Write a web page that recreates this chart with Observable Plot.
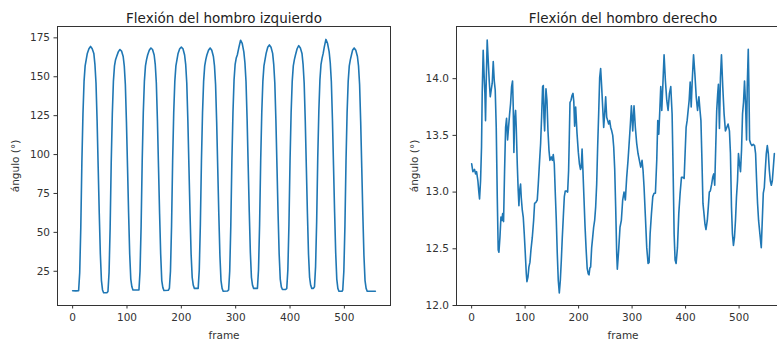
<!DOCTYPE html>
<html>
<head>
<meta charset="utf-8">
<script src="https://cdn.jsdelivr.net/npm/d3@7"></script>
<script src="https://cdn.jsdelivr.net/npm/@observablehq/plot@0.6"></script>
<style>
  html, body { margin: 0; padding: 0; background: #fff; }
  #wrap { position: relative; width: 777px; height: 343px; overflow: hidden; background: #fff; }
  #left, #right { position: absolute; top: 0; }
  #left { left: 0; width: 391px; }
  #right { left: 391px; width: 400px; }
  #wrap svg { max-width: none !important; }
</style>
</head>
<body>
<div id="wrap"><div id="left"></div><div id="right"></div></div>
<script>
// ---- data ----
const titles = ["Flexión del hombro izquierdo", "Flexión del hombro derecho"];
const xLabel = "frame";
const yLabel = "ángulo (°)";
const xTicks = [0, 100, 200, 300, 400, 500];
const leftYTicks = [25, 50, 75, 100, 125, 150, 175];
const rightYTicks = [12.0, 12.5, 13.0, 13.5, 14.0];

// left shoulder flexion: [frame, angle]
const leftSeries = [
[0,12.5],[6,12.4],[11,12.5],[13,24],[15,53],[17,95],[19,126],[21,147],[23,157],[25,161],[27,165],[30,168],[33,169.5],[36,168],[39,165],[41,158],[43,146],[45,122],[47,92],[49,62],[51,36],[53,19],[55,13],[57,11.2],[63,11.2],
[65,12],[67,24],[69,53],[71,95],[73,126],[75,147],[77,157],[79,161],[81,163],[84,166],[87,167.5],[90,166.5],[93,163],[95,157],[97,145],[99,121],[101,92],[103,62],[105,36],[107,20],[109,15],[111,13],[118,13],
[122,13],[124,25],[126,54],[128,96],[130,127],[132,147],[134,157],[136,161],[138,164],[141,167],[144,168.5],[147,167.5],[150,164],[152,158],[154,146],[156,122],[158,92],[160,62],[162,36],[164,19],[166,14.5],[168,12.6],[176,12.8],
[178,14],[180,25],[182,54],[184,96],[186,127],[188,147],[190,157],[192,161],[194,165],[197,168],[200,169],[203,168],[206,164],[208,158],[210,146],[212,122],[214,92],[216,62],[218,36],[220,21],[222,16],[224,14],[229,14],
[231,14],[233,26],[235,55],[237,96],[239,127],[241,147],[243,157],[245,161],[247,164],[250,167],[253,168.5],[256,167],[259,163],[261,157],[263,145],[265,121],[267,91],[269,61],[271,35],[273,19],[275,14],[277,12.2],[285,12.3],
[287,13],[289,25],[291,54],[293,96],[295,127],[297,148],[299,158],[301,162],[303,164],[306,169],[309,173.5],[312,171.5],[315,166],[317,159],[319,147],[321,123],[323,93],[325,63],[327,37],[329,21],[331,16],[333,14],[338,14],
[340,14],[342,26],[344,55],[346,96],[348,127],[350,147],[352,157],[354,161],[356,165],[359,169],[362,170.5],[365,169],[368,165],[370,158],[372,146],[374,122],[376,92],[378,62],[380,36],[382,20],[384,15],[386,13.3],[392,13.3],
[394,14],[396,26],[398,55],[400,96],[402,127],[404,147],[406,157],[408,161],[410,164],[413,168],[416,170],[419,168.5],[422,165],[424,158],[426,146],[428,122],[430,92],[432,62],[434,36],[436,21],[438,16],[440,14],[443,14],
[445,15],[447,28],[449,57],[451,98],[453,128],[455,148],[457,158],[459,162],[461,165],[463,169],[466,174],[469,171.5],[472,166],[474,159],[476,147],[478,123],[480,93],[482,63],[484,37],[486,20],[488,14],[490,12.2],[496,12.2],
[497,13],[499,25],[501,54],[503,96],[505,127],[507,147],[509,157],[511,161],[513,164],[515,167],[518,168.5],[521,167],[524,163],[526,157],[528,145],[530,121],[532,91],[534,61],[536,35],[538,19],[540,14],[542,12.2],[557,12.2]
];

// right shoulder flexion: [frame, angle]
const rightSeries = [
[0,13.25],[2.3,13.18],[5.4,13.20],[7.3,13.16],[9.2,13.18],[11.7,13.10],[13.5,13.00],[14.8,12.94],[16.7,13.10],[18.5,13.40],[19.8,13.88],[21.6,14.25],[23.5,14.01],[24.8,13.87],[26,13.63],[27.3,13.98],[29.1,14.34],[31,14.16],[32.9,13.98],[34.8,13.84],[36.6,13.90],[38.5,13.96],[40.4,14.15],[42.3,13.98],[44.1,13.90],[46,13.57],[47.9,12.96],[49.7,12.49],[51,12.47],[52.9,12.60],[54.8,12.78],[56.6,12.75],[58,12.81],[59.7,12.74],[61.6,13.19],[63.5,13.57],[65.3,13.65],[67.2,13.46],[68.5,13.54],[71,13.69],[72.8,13.78],[74.7,13.93],[76.5,13.98],[77.8,13.75],[79,13.35],[80.3,13.63],[82.2,13.72],[83.4,13.57],[85.3,13.25],[87.1,13.01],[88.4,12.88],[89.6,13.01],[91.5,13.07],[92.8,12.95],[94.7,12.84],[96.5,12.78],[98.4,12.63],[100.3,12.46],[102.2,12.28],[103.4,12.21],[105.3,12.25],[107.1,12.34],[109,12.38],[110.9,12.49],[113.4,12.60],[115.9,12.75],[117.7,12.90],[120.2,12.91],[122.7,12.93],[124.6,13.07],[127.1,13.28],[129,13.43],[130.8,13.66],[132.7,13.93],[134,13.94],[135.2,13.66],[136.5,13.54],[137.7,13.75],[139,13.91],[140.8,13.81],[142.7,13.54],[144.6,13.37],[146.4,13.28],[148.9,13.31],[150.8,13.28],[152.6,13.33],[154.5,13.25],[156.4,12.99],[158.3,12.75],[160.1,12.46],[162,12.22],[163.9,12.11],[165.8,12.22],[167.6,12.39],[169.5,12.60],[171.4,12.78],[173.3,12.96],[175.1,13.01],[177,13.01],[179.5,13.00],[181.3,13.19],[182.6,13.48],[183.9,13.79],[185.8,13.81],[187.6,13.85],[189.5,13.87],[191,13.80],[192.6,13.58],[194.5,13.75],[197,13.52],[199.5,13.35],[201.5,13.25],[203.5,13.20],[205,13.22],[206.5,13.38],[208,13.20],[210,12.95],[212,12.70],[214,12.50],[216,12.33],[218,12.28],[219.5,12.27],[221,12.33],[222.5,12.34],[224.4,12.51],[226.3,12.60],[228.1,12.69],[230,12.75],[231.9,12.87],[233.8,13.07],[235.6,13.40],[237.5,13.69],[239.4,14.01],[241.2,14.09],[243.1,13.93],[245,13.75],[246.9,13.57],[248.7,13.69],[250.6,13.84],[252.5,13.66],[254.4,13.63],[256.2,13.60],[258.1,13.63],[260,13.57],[261.9,13.54],[263.8,13.50],[265.6,13.40],[267.5,13.20],[269.3,12.87],[271.2,12.46],[272.4,12.32],[274.9,12.49],[277.4,12.69],[279.9,12.75],[282.4,12.93],[284.9,13.00],[287.4,12.93],[289.9,13.13],[292.4,13.28],[294.9,13.46],[296.8,13.60],[298.7,13.76],[301.2,13.54],[303.6,13.76],[306.1,13.57],[308.6,13.43],[311.1,13.34],[316.1,13.22],[318.6,13.28],[320.5,13.19],[322.4,13.04],[324.9,12.78],[327.4,12.51],[329.9,12.37],[331.8,12.38],[333.7,12.63],[336.2,12.81],[338.7,12.96],[341.1,12.99],[343.6,12.99],[346.1,13.28],[348,13.63],[349.9,13.51],[351.8,13.72],[353.6,13.93],[355.5,13.72],[357.4,13.93],[359.8,14.21],[362.3,13.98],[364.8,13.81],[367.3,13.72],[369.8,13.87],[372.3,13.93],[374.8,13.69],[376.7,13.19],[378.6,12.63],[380.4,12.40],[382.3,12.37],[384.8,12.51],[387.3,12.81],[389.8,12.99],[392.3,13.13],[394.8,13.13],[397.3,13.12],[399.1,13.34],[401,13.57],[402.9,13.63],[404.8,13.72],[406.7,13.81],[408.6,13.97],[410.5,13.75],[412.4,13.98],[414.9,14.21],[417.4,14.04],[419.9,13.84],[422.4,13.72],[424.9,13.84],[426.8,13.73],[428.7,13.63],[430.6,13.28],[432.5,12.90],[434.4,12.81],[436.2,12.72],[438.1,12.67],[440.6,12.75],[442.5,12.87],[444.4,13.00],[446.3,13.01],[448.8,13.07],[450.7,13.13],[452.6,13.16],[454.5,13.06],[456.4,13.40],[458.2,13.72],[460.1,13.87],[461.4,13.95],[463.3,13.56],[465.2,14.01],[467.1,14.21],[469.5,13.93],[472,13.69],[474.5,13.54],[477,13.57],[479.5,13.60],[482,13.54],[483.9,13.34],[485.8,12.87],[487.6,12.63],[489.5,12.53],[491.4,12.60],[493.3,12.75],[495.2,12.96],[497.1,13.10],[498.9,13.34],[500.8,13.25],[502.7,13.18],[504.6,13.37],[506.5,13.69],[508.3,13.79],[510.2,13.98],[512.1,13.78],[514,13.46],[515.3,13.93],[517.2,14.26],[518.4,13.93],[519.7,13.46],[521.5,13.43],[524,13.41],[526.5,13.42],[529,13.41],[530.9,13.34],[532.8,13.10],[534.6,12.90],[536.5,12.75],[539,12.63],[541.5,12.51],[543.4,12.75],[545.3,12.99],[547.2,13.04],[549,13.19],[550.9,13.34],[552.8,13.41],[554.7,13.34],[556.6,13.19],[558.4,13.10],[560.3,13.06],[562.2,13.10],[564.1,13.22],[566,13.34]
];

// ---- drawing ----
const lineColor = "#1f77b4";
const textColor = "#333";

function panel({series, title, width, marginLeft, marginRight, xDomain, yDomain, yTicks, yFormat}) {
  return Plot.plot({
    width, height: 343,
    marginLeft, marginRight, marginTop: 26, marginBottom: 38,
    style: {fontFamily: "'DejaVu Sans', sans-serif", fontSize: "10.5px", color: textColor, background: "transparent", overflow: "visible", maxWidth: "none"},
    x: {domain: xDomain, ticks: xTicks, tickSize: 3.5, tickPadding: 4.5, tickFormat: d3.format("d"),
        label: xLabel, labelAnchor: "center", labelOffset: 33, labelArrow: "none"},
    y: {domain: yDomain, ticks: yTicks, tickSize: 3.5, tickPadding: 4, tickFormat: yFormat,
        label: yLabel, labelAnchor: "center", labelOffset: 46, labelArrow: "none"},
    marks: [
      Plot.line(series, {x: d => d[0], y: d => d[1], stroke: lineColor, strokeWidth: 1.6}),
      Plot.frame({stroke: textColor, strokeWidth: 1}),
      Plot.text([title], {text: d => d, frameAnchor: "top", dy: -13, fontSize: 13.5, fill: "#222"})
    ]
  });
}

document.getElementById("left").append(panel({
  series: leftSeries, title: titles[0], width: 391, marginLeft: 57, marginRight: 1,
  xDomain: [-27.85, 584.85], yDomain: [3.0, 182.3], yTicks: leftYTicks, yFormat: d3.format("d")
}));
document.getElementById("right").append(panel({
  series: rightSeries, title: titles[1], width: 400, marginLeft: 65, marginRight: 2,
  xDomain: [-28.3, 594.3], yDomain: [12.0, 14.46], yTicks: rightYTicks, yFormat: d3.format(".1f")
}));
</script>
</body>
</html>
